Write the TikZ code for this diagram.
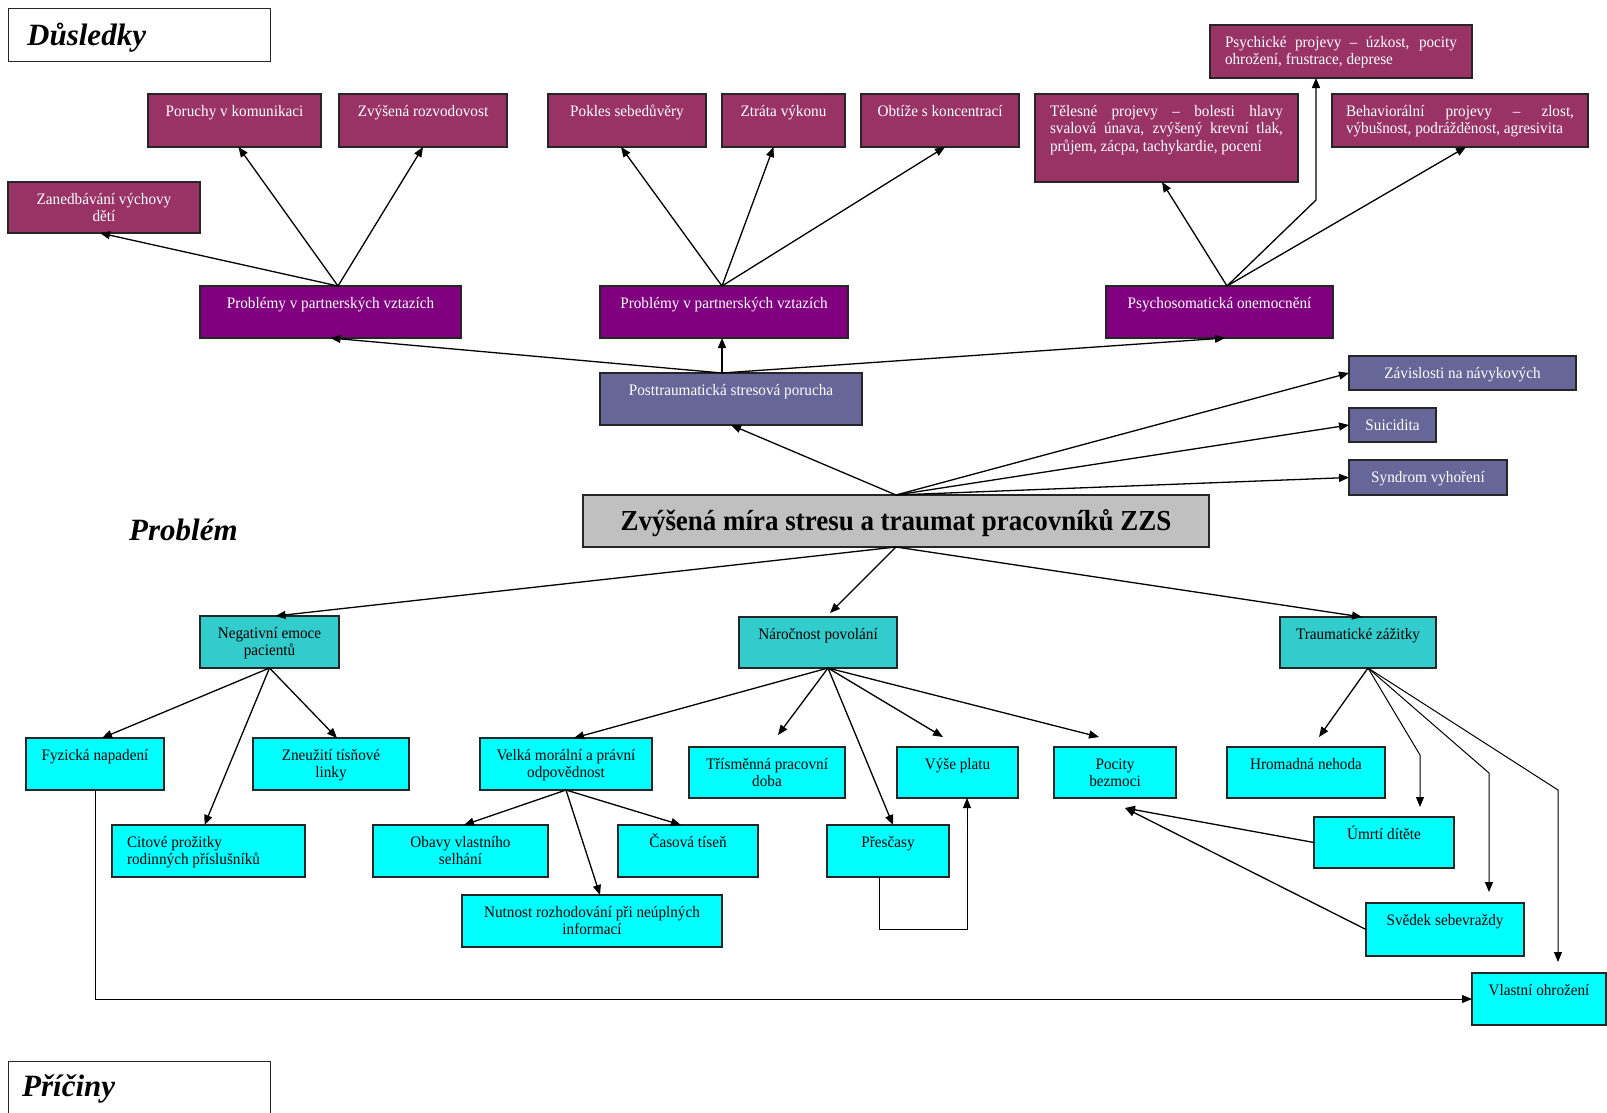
\documentclass[tikz,border=0pt]{standalone}
\usepackage{fontspec}
\setmainfont{Liberation Serif}
\newfontfamily\cfont[FakeStretch=0.95]{Liberation Serif}
\newfontfamily\tfont[FakeStretch=0.93]{Liberation Serif}
\usetikzlibrary{arrows.meta,calc}

\definecolor{plumc}{HTML}{993366}
\definecolor{purpc}{HTML}{800080}
\definecolor{slatec}{HTML}{666699}
\definecolor{greyc}{HTML}{C0C0C0}
\definecolor{tealc}{HTML}{33CCCC}
\definecolor{cyanc}{HTML}{00FFFF}

\def\bxmrg{24pt}
\tikzset{
  bxbase/.style={draw=black!85, line width=1.2pt},
  plum/.style={bxbase, fill=plumc},
  purp/.style={bxbase, fill=purpc},
  slate/.style={bxbase, fill=slatec},
  greyb/.style={bxbase, fill=greyc},
  teal/.style={bxbase, fill=tealc},
  cyanb/.style={bxbase, fill=cyanc},
  hdrbox/.style={bxbase, fill=white},
  mrg/.code={\def\bxmrg{#1}},
  tw/.style={inner sep=0pt, text=white, font=\cfont\fontsize{16}{17.5}\selectfont, yshift=-22pt},
  tb/.style={inner sep=0pt, text=black, font=\cfont\fontsize{16}{17.5}\selectfont, yshift=-22pt},
  tt/.style={inner sep=0pt, text=black, font=\tfont\bfseries\fontsize{29}{33}\selectfont, yshift=-35pt},
  hdr/.style={inner sep=0pt, font=\bfseries\itshape\fontsize{31}{36}\selectfont},
  arr/.style={line width=1.3pt, -{Triangle[length=10pt,width=8pt]}},
  tarr/.style={line width=1pt, -{Triangle[length=10pt,width=8pt]}},
}

% box with its text set from the top: name, box style, text style, x1, y1, x2, y2, text
\newcommand\drawbox[8]{%
  \node[#2, anchor=north west, inner sep=0pt, outer sep=0pt,
        minimum width={(#6-#4)*1pt}, minimum height={(#7-#5)*1pt}] (#1) at (#4,#5) {};
  \node[#3, anchor=base] (#1t) at (#1.north)
    {\parbox[t]{\dimexpr#6pt-#4pt-\bxmrg\relax}{\hyphenpenalty=10000 \tolerance=9999 #8}};%
}

\begin{document}
\begin{tikzpicture}[x=1pt,y=-1pt]
\fill[white] (0,0) rectangle (1607,1112);
\useasboundingbox (0,0) rectangle (1607,1112);

% section headings
\node[hdrbox, anchor=north west, minimum width=262pt, minimum height=53pt] (dus) at (8,8) {};
\node[hdr, anchor=base west] (dust) at (27,45) {Důsledky};
\node[hdr, anchor=base west] (prob) at (129,540) {Problém};
\node[hdrbox, anchor=north west, minimum width=262pt, minimum height=62pt] (pri) at (8,1061) {};
\node[hdr, anchor=base west] (prit) at (22,1096) {Příčiny};

% consequences
\drawbox{zan}{plum}{tw}{8}{182}{200}{233}{\centering Zanedbávání výchovy\\dětí}
\drawbox{por}{plum}{tw}{148}{94}{321}{147}{\centering Poruchy v komunikaci}
\drawbox{roz}{plum}{tw}{339}{94}{507}{147}{\centering Zvýšená rozvodovost}
\drawbox{pok}{plum}{tw}{548}{94}{706}{147}{\centering Pokles sebedůvěry}
\drawbox{ztr}{plum}{tw}{722}{94}{845}{147}{\centering Ztráta výkonu}
\drawbox{obt}{plum}{tw}{861}{94}{1019}{147}{\centering Obtíže s koncentrací}
\drawbox{tel}{plum}{tw,mrg=30pt}{1035}{94}{1298}{182}{Tělesné projevy – bolesti hlavy\linebreak svalová únava, zvýšený krevní tlak,\linebreak průjem, zácpa, tachykardie, pocení}
\drawbox{psy}{plum}{tw,mrg=30pt}{1210}{25}{1472}{78}{Psychické projevy – úzkost, pocity\linebreak ohrožení, frustrace, deprese}
\drawbox{beh}{plum}{tw,mrg=28pt}{1332}{94}{1588}{147}{Behaviorální projevy – zlost,\linebreak výbušnost, podrážděnost, agresivita}

\drawbox{pv1}{purp}{tw}{200}{286}{461}{338}{\centering Problémy v partnerských vztazích}
\drawbox{pv2}{purp}{tw}{600}{286}{848}{338}{\centering Problémy v partnerských vztazích}
\drawbox{pso}{purp}{tw}{1106}{286}{1333}{338}{\centering Psychosomatická onemocnění}

\drawbox{ptsd}{slate}{tw}{600}{373}{862}{425}{\centering Posttraumatická stresová porucha}
\drawbox{zav}{slate}{tw}{1349}{356}{1576}{390}{\centering Závislosti na návykových}
\drawbox{sui}{slate}{tw}{1349}{408}{1436}{442}{\centering Suicidita}
\drawbox{syn}{slate}{tw}{1349}{460}{1507}{495}{\centering Syndrom vyhoření}

% the problem
\drawbox{main}{greyb}{tt}{583}{495}{1209}{547}{\centering Zvýšená míra stresu a traumat pracovníků ZZS}

% causes
\drawbox{neg}{teal}{tb}{200}{616}{339}{668}{\centering Negativní emoce\\pacientů}
\drawbox{nar}{teal}{tb}{739}{617}{897}{668}{\centering Náročnost povolání}
\drawbox{tra}{teal}{tb}{1280}{617}{1436}{668}{\centering Traumatické zážitky}

\drawbox{fyz}{cyanb}{tb}{26}{738}{164}{790}{\centering Fyzická napadení}
\drawbox{zne}{cyanb}{tb}{253}{738}{409}{790}{\centering Zneužití tísňové\\linky}
\drawbox{vel}{cyanb}{tb}{480}{738}{652}{790}{\centering Velká morální a právní\\odpovědnost}
\drawbox{tri}{cyanb}{tb}{689}{747}{845}{798}{\centering Třísměnná pracovní\\doba}
\drawbox{vys}{cyanb}{tb}{897}{747}{1018}{798}{\centering Výše platu}
\drawbox{poc}{cyanb}{tb}{1054}{747}{1176}{798}{\centering Pocity\\bezmoci}
\drawbox{hro}{cyanb}{tb}{1227}{747}{1385}{798}{\centering Hromadná nehoda}
\drawbox{cit}{cyanb}{tb,mrg=30pt}{112}{825}{305}{877}{\raggedright Citové prožitky\\rodinných příslušníků}
\drawbox{oba}{cyanb}{tb}{373}{825}{548}{877}{\centering Obavy vlastního\\selhání}
\drawbox{cas}{cyanb}{tb}{618}{825}{758}{877}{\centering Časová tíseň}
\drawbox{nut}{cyanb}{tb}{462}{895}{722}{947}{\centering Nutnost rozhodování při neúplných\\informací}
\drawbox{pre}{cyanb}{tb}{827}{825}{949}{877}{\centering Přesčasy}
\drawbox{umr}{cyanb}{tb}{1314}{817}{1454}{868}{\centering Úmrtí dítěte}
\drawbox{sve}{cyanb}{tb}{1366}{903}{1524}{956}{\centering Svědek sebevraždy}
\drawbox{vla}{cyanb}{tb}{1472}{973}{1606}{1025}{\centering Vlastní ohrožení}

% connectors: consequences
\coordinate (pv1o) at ([xshift=7.5pt]pv1.north);
\draw[arr] (pv1o) -- ([xshift=-4pt]zan.south);
\draw[arr] (pv1o) -- ([xshift=4pt]por.south);
\draw[arr] (pv1o) -- (roz.south);
\coordinate (pv2o) at ([xshift=-2pt]pv2.north);
\draw[arr] (pv2o) -- ([xshift=-6pt]pok.south);
\draw[arr] (pv2o) -- ([xshift=-10pt]ztr.south);
\draw[arr] (pv2o) -- ([xshift=5pt]obt.south);
\coordinate (psoo) at ([xshift=7.5pt]pso.north);
\draw[arr] (psoo) -- ([xshift=-4.5pt]tel.south);
\draw[arr] (psoo) -- ([xshift=-25pt,yshift=-122pt]psy.south) -- ([xshift=-25pt]psy.south);
\draw[arr] (psoo) -- ([xshift=6pt]beh.south);

\coordinate (ptsdo) at ([xshift=-9pt]ptsd.north);
\draw[arr] (ptsdo) -- (pv1.south);
\draw[arr] (ptsdo) -- (ptsdo |- pv2.south);
\draw[arr] (ptsdo) -- ([xshift=5.5pt]pso.south);

\draw[arr] (main.north) -- (ptsd.south);
\draw[arr] (main.north) -- (zav.west);
\draw[arr] (main.north) -- (sui.west);
\draw[arr] (main.north) -- (syn.west);

% connectors: causes
\draw[arr] (main.south) -- ([xshift=6pt]neg.north);
\draw[arr] (main.south) -- ([xshift=12pt,yshift=4pt]nar.north);
\draw[arr] (main.south) -- ([xshift=4pt]tra.north);

\draw[arr] (neg.south) -- ([xshift=7pt]fyz.north);
\draw[arr] (neg.south) -- ([xshift=-4pt]cit.north);
\draw[arr] (neg.south) -- ([xshift=6pt]zne.north);

\coordinate (naro) at ([xshift=10pt]nar.south);
\draw[arr] (naro) -- ([xshift=8pt]vel.north);
\draw[arr] (naro) -- ([xshift=11pt,yshift=12pt]tri.north);
\draw[arr] (naro) -- ([xshift=5pt]pre.north);
\draw[arr] (naro) -- ([xshift=-14.5pt,yshift=10pt]vys.north);
\draw[arr] (naro) -- ([xshift=-16pt,yshift=10pt]poc.north);

\draw[arr] (vel.south) -- ([xshift=3.5pt]oba.north);
\draw[arr] (vel.south) -- ([xshift=-7pt]cas.north);
\draw[arr] (vel.south) -- ([xshift=8pt]nut.north);

\coordinate (trao) at ([xshift=10pt]tra.south);
\draw[arr] (trao) -- ([xshift=13pt,yshift=10pt]hro.north);
\draw[tarr] (trao) -- ([xshift=36pt,yshift=62pt]umr.north) -- ([xshift=36pt,yshift=10pt]umr.north);
\draw[tarr] (trao) -- ([xshift=44pt,yshift=130pt]sve.north) -- ([xshift=44pt,yshift=11pt]sve.north);
\draw[tarr] (trao) -- ([xshift=19pt,yshift=183pt]vla.north) -- ([xshift=19pt,yshift=11pt]vla.north);

\draw[tarr] ([xshift=-9pt]pre.south) -- ++(0,52) -| ([xshift=9.5pt]vys.south);

\coordinate (pocin) at ([xshift=10pt,yshift=-10pt]poc.south);
\draw[arr] (umr.west) -- (pocin);
\draw[arr] (sve.west) -- (pocin);

\draw[tarr] (fyz.south) -- (fyz.south |- vla.west) -- (vla.west);
\end{tikzpicture}
\end{document}
